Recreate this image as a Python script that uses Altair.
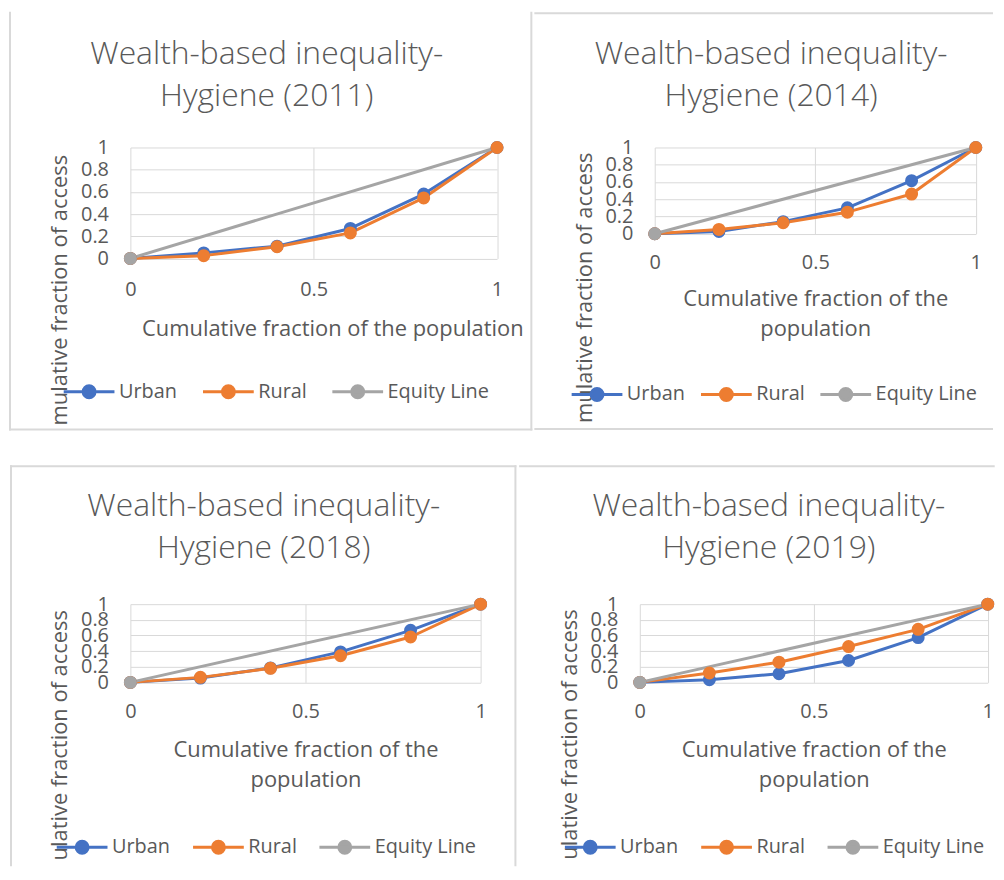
import altair as alt
import pandas as pd

# ---------------- data ----------------
pop_share = [0.0, 0.2, 0.4, 0.6, 0.8, 1.0]
urban_2011 = [0.0, 0.05, 0.11, 0.27, 0.58, 1.0]
rural_2011 = [0.0, 0.025, 0.105, 0.23, 0.545, 1.0]
urban_2014 = [0.0, 0.027, 0.14, 0.30, 0.615, 1.0]
rural_2014 = [0.0, 0.05, 0.127, 0.25, 0.46, 1.0]
urban_2018 = [0.0, 0.055, 0.185, 0.39, 0.665, 1.0]
rural_2018 = [0.0, 0.064, 0.18, 0.34, 0.58, 1.0]
urban_2019 = [0.0, 0.034, 0.11, 0.28, 0.572, 1.0]
rural_2019 = [0.0, 0.12, 0.258, 0.458, 0.678, 1.0]
equity_x = [0.0, 1.0]
equity_y = [0.0, 1.0]

series_names = ["Urban", "Rural", "Equity Line"]
series_colors = ["#4472C4", "#ED7D31", "#A5A5A5"]
years = ["2011", "2014", "2018", "2019"]
title_line1 = "Wealth-based inequality-"
title_line2 = "Hygiene ({})"
x_title_one = "Cumulative fraction of the population"
x_title_two = ["Cumulative fraction of the", "population"]
y_title = "Cumulative fraction of access"
x_ticks = [0, 0.5, 1]
y_ticks = [0, 0.2, 0.4, 0.6, 0.8, 1]

# ---------------- styling / layout (page pixel coordinates) ----------------
FONT = "Open Sans"
TXT = "#595959"
GRID = "#D9D9D9"
FRAME = "#D9D9D9"
LEGEND_SYMBOL = ("M-1,0L1,0M-0.235,0A0.235,0.235,0,1,1,0.235,0"
                 "A0.235,0.235,0,1,1,-0.235,0Z")

LAYOUT = {
    "2011": dict(cell=(8, 8, 534, 429), plot=(130, 144.5, 498.5, 256),
                 lines=[("v", 9, 8, 429), ("h", 428, 8, 534), ("v", 533, 8, 429)],
                 title=(267, 61, 42), xtitle=(333, 333), xtitle_text=x_title_one,
                 xlabpad=37, legend=(61.5, 390, 19), ytitle=(66.5, 152)),
    "2014": dict(cell=(534, 8, 995, 429), plot=(655, 145, 977.7, 231.7),
                 lines=[("h", 10, 534, 995), ("h", 428, 534, 995)],
                 title=(772, 61, 42), xtitle=(816.3, 304), xtitle_text=x_title_two,
                 xlabpad=35, legend=(570, 393.3, 9), ytitle=(591.7, 150)),
    "2018": dict(cell=(8, 461, 517, 864), plot=(129, 600.7, 481, 679.3),
                 lines=[("h", 462, 8, 517), ("v", 9, 461, 864), ("v", 516, 461, 864)],
                 title=(263, 512, 42), xtitle=(305, 754), xtitle_text=x_title_two,
                 xlabpad=35.7, legend=(53.5, 845, 16), ytitle=(65, 606.7)),
    "2019": dict(cell=(517, 461, 995, 864), plot=(638.3, 600.7, 988, 679.3),
                 lines=[("h", 462, 517, 995)],
                 title=(768, 512, 42), xtitle=(813.2, 754), xtitle_text=x_title_two,
                 xlabpad=35.7, legend=(561.5, 845, 16), ytitle=(575, 606)),
}

SERIES = {
    "2011": (urban_2011, rural_2011),
    "2014": (urban_2014, rural_2014),
    "2018": (urban_2018, rural_2018),
    "2019": (urban_2019, rural_2019),
}


def v(val):
    return alt.value(val)


def panel(year):
    L = LAYOUT[year]
    urban, rural = SERIES[year]
    ox, oy, rx, by = L["plot"]
    w, h = rx - ox, by - oy

    df = pd.DataFrame({
        "x": pop_share + pop_share + equity_x,
        "y": urban + rural + equity_y,
        "series": ["Urban"] * len(urban) + ["Rural"] * len(rural)
                  + ["Equity Line"] * len(equity_x),
    })

    lx, ly, cp = L["legend"]
    color = alt.Color(
        "series:N",
        title=None,
        scale=alt.Scale(domain=series_names, range=series_colors),
        legend=alt.Legend(
            orient="none", direction="horizontal",
            legendX=lx - ox, legendY=ly - 27 - oy,
            symbolType=LEGEND_SYMBOL, symbolSize=2601, symbolStrokeWidth=3,
            labelFont=FONT, labelFontSize=20, labelColor=TXT,
            labelOffset=3, columnPadding=cp, padding=0,
        ),
    )
    tx, ty = L["xtitle"]
    x_enc = alt.X(
        "x:Q",
        scale=alt.Scale(domain=[0, 1], nice=False, zero=False),
        axis=alt.Axis(
            values=x_ticks, format="~g", grid=True, gridColor=GRID, gridWidth=1,
            domain=False, ticks=False, tickSize=0, labelFlush=False,
            labelOverlap=False, labelFont=FONT, labelFontSize=20,
            labelColor=TXT, labelPadding=L["xlabpad"], labelBaseline="alphabetic",
            title=L["xtitle_text"], titleFont=FONT, titleFontSize=22,
            titleFontWeight="normal", titleColor=TXT, titleX=tx - ox,
            titleY=ty - by, titleAlign="center", titleBaseline="alphabetic",
            titleLineHeight=30,
        ),
    )
    y_enc = alt.Y(
        "y:Q",
        scale=alt.Scale(domain=[0, 1], nice=False, zero=False),
        axis=alt.Axis(
            values=y_ticks, format="~g", grid=True, gridColor=GRID, gridWidth=1,
            domain=False, ticks=False, tickSize=0, labelFlush=False,
            labelOverlap=False, labelFont=FONT, labelFontSize=20,
            labelColor=TXT, labelPadding=22, title=None,
        ),
    )

    base = alt.Chart(df).encode(x=x_enc, y=y_enc, color=color)
    lines = base.mark_line(strokeWidth=3, strokeJoin="round")
    pts = base.mark_point(filled=True, size=170, opacity=1).transform_filter(
        "datum.series != 'Equity Line'")
    eq_pt = base.mark_point(filled=True, size=170, opacity=1).transform_filter(
        "datum.series == 'Equity Line' && datum.x == 0")

    deco = alt.Chart(pd.DataFrame({"k": [0]}))
    cl, ct, cr, cb = L["cell"]
    layers = [
        deco.mark_rect(opacity=0).encode(
            x=v(cl - ox), x2=v(cr - ox), y=v(ct - oy), y2=v(cb - oy)),
    ]
    for kind, a, b0, b1 in L["lines"]:
        if kind == "v":
            layers.append(deco.mark_rule(color=FRAME, strokeWidth=2).encode(
                x=v(a - ox), y=v(b0 - oy), y2=v(b1 - oy)))
        else:
            layers.append(deco.mark_rule(color=FRAME, strokeWidth=2).encode(
                y=v(a - oy), x=v(b0 - ox), x2=v(b1 - ox)))

    ttx, tty, tlh = L["title"]
    layers.append(deco.mark_text(
        font=FONT, fontSize=32, fontWeight=300, color=TXT, align="center",
        baseline="alphabetic", lineBreak="\n", lineHeight=tlh,
    ).encode(x=v(ttx - ox), y=v(tty - oy),
             text=v(title_line1 + "\n" + title_line2.format(year))))

    yx, yy = L["ytitle"]
    layers.append(deco.mark_text(
        font=FONT, fontSize=22, color=TXT, angle=270, align="right",
        baseline="alphabetic", limit=cb - yy - 2, dir="rtl", ellipsis="\u200b",
    ).encode(x=v(yx - ox), y=v(yy - oy), text=v(y_title)))

    layers += [lines, pts, eq_pt]
    return alt.layer(*layers).properties(width=w, height=h)


def indep(c):
    return c.resolve_scale(x="independent", y="independent",
                           color="independent").resolve_legend(color="independent")


row1 = indep(alt.hconcat(panel("2011"), panel("2014"), spacing=0))
row2 = indep(alt.hconcat(panel("2018"), panel("2019"), spacing=0))
chart = indep(alt.vconcat(row1, row2, spacing=32)).properties(
    padding=0, background="white"
).configure_view(strokeWidth=0)

chart.save("out.html", embed_options={"renderer": "svg", "actions": False})
